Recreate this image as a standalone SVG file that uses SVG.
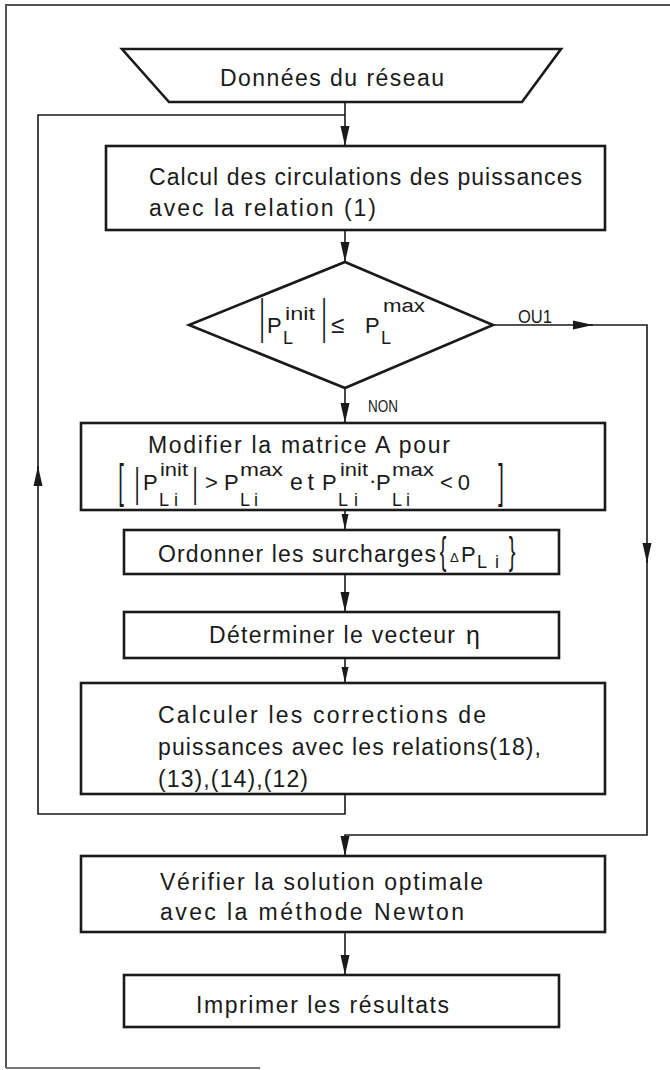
<svg xmlns="http://www.w3.org/2000/svg" width="670" height="1070" viewBox="0 0 670 1070">
<style>
  .frame { fill: none; stroke: #555; stroke-width: 2; }
  .node { fill: #fff; stroke: #1a1a1a; stroke-width: 2.6; stroke-linejoin: miter; }
  .conn { fill: none; stroke: #1a1a1a; stroke-width: 1.6; }
  text { font-family: "Liberation Sans", Arial, sans-serif; fill: #1a1a1a; }
  .t { font-size: 23px; }
  .m { font-size: 22px; }
  .s { font-size: 18px; }
  .d { font-size: 20px; text-anchor: middle; }
</style>
<defs>
  <marker id="arr" markerUnits="userSpaceOnUse" markerWidth="20" markerHeight="10" refX="20" refY="5" orient="auto">
    <path d="M0,0.5 L20,5 L0,9.5 z" fill="#1a1a1a"/>
  </marker>
  <marker id="arrs" markerUnits="userSpaceOnUse" markerWidth="16" markerHeight="8" refX="16" refY="4" orient="auto">
    <path d="M0,0.5 L16,4 L0,7.5 z" fill="#1a1a1a"/>
  </marker>
</defs>

<!-- page frame -->
<path class="frame" d="M670,5 L6,5 L6,1068"/>
<path d="M6,1068 L260,1068" fill="none" stroke="#777" stroke-width="2"/>

<g id="connectors">
  <path class="conn" d="M345,102 L345,146" marker-end="url(#arr)"/>
  <path class="conn" d="M345,230 L345,262" marker-end="url(#arr)"/>
  <path class="conn" d="M345,388 L345,423" marker-end="url(#arr)"/>
  <path class="conn" d="M345,510 L345,530" marker-end="url(#arrs)"/>
  <path class="conn" d="M345,574 L345,612" marker-end="url(#arr)"/>
  <path class="conn" d="M345,658 L345,683" marker-end="url(#arrs)"/>
  <path class="conn" d="M345,932 L345,975" marker-end="url(#arr)"/>
  <!-- feedback loop -->
  <path class="conn" d="M345,794 L345,814 L38,814 L38,466" marker-end="url(#arr)"/>
  <path class="conn" d="M38,470 L38,115 L345,115"/>
  <!-- OUI branch -->
  <path class="conn" d="M493,325 L593,325" marker-end="url(#arr)"/>
  <path class="conn" d="M590,325 L647,325 L647,563" marker-end="url(#arr)"/>
  <path class="conn" d="M647,560 L647,835 L345,835 L345,856" marker-end="url(#arr)"/>
  <text x="518" y="323" textLength="34" lengthAdjust="spacingAndGlyphs" style="font-size:19px">OU1</text>
  <text x="368" y="412" textLength="30" lengthAdjust="spacingAndGlyphs" style="font-size:17px">NON</text>
</g>

<g id="n-donnees">
  <polygon class="node" points="122,49 561,49 522,102 169,102"/>
  <text class="t" x="220" y="86" textLength="224" lengthAdjust="spacing">Données du réseau</text>
</g>

<g id="n-calcul">
  <rect class="node" x="106" y="146" width="499" height="84"/>
  <text class="t" x="149" y="185" textLength="433" lengthAdjust="spacing">Calcul des circulations des puissances</text>
  <text class="t" x="149" y="216" textLength="227" lengthAdjust="spacing">avec la relation (1)</text>
</g>

<g id="n-test">
  <polygon class="node" points="345,262 493,325 345,388 189,325"/>
  <text class="d" transform="translate(262,332.7) scale(1,2.45)">|</text>
  <text class="m" x="267" y="333">P<tspan class="s" x="283" y="344">L</tspan><tspan class="s" x="285" y="320" textLength="30" lengthAdjust="spacingAndGlyphs">init</tspan></text>
  <text class="d" transform="translate(324,332.7) scale(1,2.45)">|</text>
  <text x="331" y="333" style="font-size:24px">≤</text>
  <text class="m" x="365" y="333">P<tspan class="s" x="381" y="344">L</tspan><tspan class="s" x="383" y="312" textLength="42" lengthAdjust="spacingAndGlyphs">max</tspan></text>
</g>

<g id="n-modifier">
  <rect class="node" x="81" y="423" width="524" height="87"/>
  <text class="t" x="148" y="453" textLength="302" lengthAdjust="spacing">Modifier la matrice A pour</text>
  <text class="d" transform="translate(121,497.2) scale(1,2.34)">[</text>
  <text class="d" transform="translate(137,496.5) scale(1,2.02)">|</text>
  <text class="m" x="143" y="490">P<tspan class="s" x="159" y="506" textLength="19" lengthAdjust="spacing">Li</tspan><tspan class="s" x="160" y="476" textLength="28" lengthAdjust="spacingAndGlyphs">init</tspan></text>
  <text class="d" transform="translate(195,496.5) scale(1,2.02)">|</text>
  <text class="m" x="205" y="490">&gt;</text>
  <text class="m" x="224" y="490">P<tspan class="s" x="240" y="506" textLength="18" lengthAdjust="spacing">Li</tspan><tspan class="s" x="240" y="476" textLength="43" lengthAdjust="spacingAndGlyphs">max</tspan></text>
  <text class="t" x="290" y="490" textLength="24" lengthAdjust="spacing">et</text>
  <text class="m" x="322" y="490">P<tspan class="s" x="338" y="506" textLength="20" lengthAdjust="spacing">Li</tspan><tspan class="s" x="340" y="476" textLength="28" lengthAdjust="spacingAndGlyphs">init</tspan></text>
  <text class="m" x="369" y="488">·</text>
  <text class="m" x="376" y="490">P<tspan class="s" x="392" y="506" textLength="18" lengthAdjust="spacing">Li</tspan><tspan class="s" x="392" y="476" textLength="42" lengthAdjust="spacingAndGlyphs">max</tspan></text>
  <text class="m" x="440" y="490" textLength="30" lengthAdjust="spacing">&lt; 0</text>
  <text class="d" transform="translate(501,497.2) scale(1,2.34)">]</text>
</g>

<g id="n-ordonner">
  <rect class="node" x="124" y="530" width="435" height="44"/>
  <text class="t" x="158" y="562" textLength="278" lengthAdjust="spacing">Ordonner les surcharges</text>
  <text class="d" transform="translate(443,564) scale(1,1.915)">{</text>
  <text x="450" y="562" style="font-size:13px">Δ<tspan class="m" x="461" y="562">P</tspan><tspan class="s" x="477" y="568" textLength="22" lengthAdjust="spacing">Li</tspan></text>
  <text class="d" transform="translate(512,564) scale(1,1.915)">}</text>
</g>

<g id="n-determiner">
  <rect class="node" x="124" y="612" width="435" height="46"/>
  <text class="t" x="209" y="643" textLength="246" lengthAdjust="spacing">Déterminer le vecteur</text>
  <text x="466" y="644" style="font-size:25px">η</text>
</g>

<g id="n-calculer">
  <rect class="node" x="81" y="683" width="524" height="111"/>
  <text class="t" x="158" y="723" textLength="328" lengthAdjust="spacing">Calculer les corrections de</text>
  <text class="t" x="158" y="755" textLength="383" lengthAdjust="spacing">puissances avec les relations(18),</text>
  <text class="t" x="158" y="787" textLength="150" lengthAdjust="spacing">(13),(14),(12)</text>
</g>

<g id="n-verifier">
  <rect class="node" x="81" y="856" width="524" height="76"/>
  <text class="t" x="160" y="890" textLength="323" lengthAdjust="spacing">Vérifier la solution optimale</text>
  <text class="t" x="160" y="920" textLength="304" lengthAdjust="spacing">avec la méthode Newton</text>
</g>

<g id="n-imprimer">
  <rect class="node" x="124" y="975" width="435" height="52"/>
  <text class="t" x="196" y="1013" textLength="253" lengthAdjust="spacing">Imprimer les résultats</text>
</g>
</svg>
